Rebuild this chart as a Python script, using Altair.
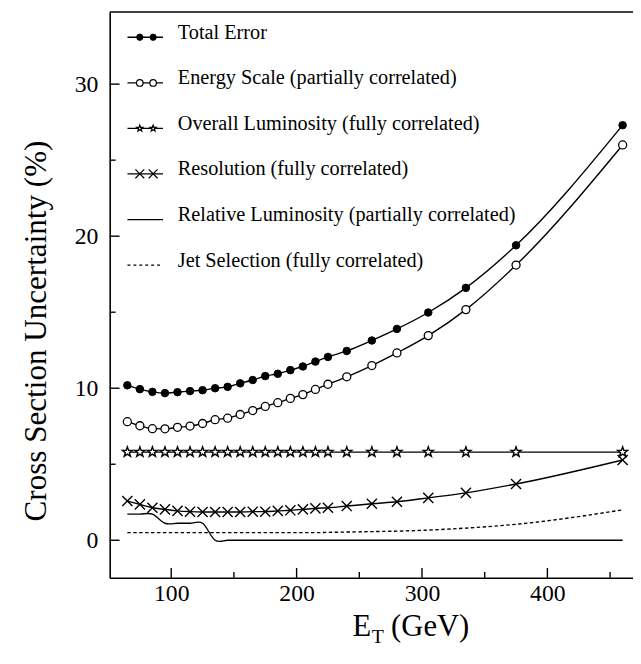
import altair as alt
import pandas as pd

# ---------------- data ----------------
et = [65, 75, 85, 95, 105, 115, 125, 135, 145, 155, 165, 175, 185, 195, 205,
      215, 225, 240, 260, 280, 305, 335, 375, 460]
total_error = [10.19, 9.94, 9.76, 9.68, 9.74, 9.81, 9.87, 10.0, 10.09, 10.32,
               10.54, 10.8, 10.95, 11.19, 11.43, 11.75, 12.06, 12.45, 13.14,
               13.9, 14.98, 16.6, 19.4, 27.3]
energy_scale = [7.8, 7.53, 7.34, 7.33, 7.43, 7.51, 7.68, 7.93, 8.03, 8.27,
                8.53, 8.8, 9.05, 9.33, 9.58, 9.92, 10.26, 10.75, 11.49, 12.32,
                13.46, 15.17, 18.1, 26.0]
overall_lumi = [5.8, 5.8, 5.8, 5.8, 5.8, 5.8, 5.8, 5.8, 5.8, 5.8, 5.8, 5.8,
                5.8, 5.8, 5.8, 5.8, 5.8, 5.8, 5.8, 5.8, 5.8, 5.8, 5.8, 5.8]
resolution = [2.58, 2.36, 2.14, 2.03, 1.93, 1.88, 1.86, 1.86, 1.86, 1.86,
              1.88, 1.88, 1.93, 1.97, 2.03, 2.1, 2.14, 2.25, 2.4, 2.53, 2.79,
              3.12, 3.7, 5.28]
relative_lumi = [1.72, 1.72, 1.72, 1.12, 1.12, 1.12, 1.12, 0.0, 0.0, 0.0, 0.0,
                 0.0, 0.0, 0.0, 0.0, 0.0, 0.0, 0.0, 0.0, 0.0, 0.0, 0.0, 0.0, 0.0]
jet_selection = [0.5, 0.5, 0.5, 0.5, 0.5, 0.5, 0.5, 0.5, 0.5, 0.5, 0.5, 0.5,
                 0.5, 0.5, 0.5, 0.5, 0.52, 0.54, 0.57, 0.6, 0.67, 0.8, 1.05, 2.0]

legend_labels = ["Total Error",
                 "Energy Scale (partially correlated)",
                 "Overall Luminosity (fully correlated)",
                 "Resolution (fully correlated)",
                 "Relative Luminosity (partially correlated)",
                 "Jet Selection (fully correlated)"]

x_major = [100, 200, 300, 400]
x_minor = [150, 250, 350, 450]
y_major = [0, 10, 20, 30]
y_minor = [5, 15, 25]

# ---------------- styling ----------------
FONT = "Liberation Serif"
W, H = 530, 573
STAR = ("M0,-1L0.235,-0.324L0.951,-0.309L0.380,0.124L0.588,0.809L0,0.4"
        "L-0.588,0.809L-0.380,0.124L-0.951,-0.309L-0.235,-0.324Z")
XMARK = "M-1,-1L1,1M-1,1L1,-1"

xs = alt.Scale(domain=[50.94, 468.27], nice=False, zero=False)
ys = alt.Scale(domain=[-2.47, 34.74], nice=False, zero=False)
xaxis = alt.Axis(values=x_major, title=None, grid=False, ticks=False, tickSize=0,
                 labelFont=FONT, labelFontSize=24, labelColor="black",
                 labelPadding=4, labelFlush=False, domainColor="black",
                 domainWidth=1.6)
yaxis = alt.Axis(values=y_major, title=None, grid=False, ticks=False, tickSize=0,
                 labelFont=FONT, labelFontSize=24, labelColor="black",
                 labelPadding=12, labelFlush=False, domainColor="black",
                 domainWidth=1.6)

df = pd.DataFrame({"et": et, "total": total_error, "energy": energy_scale,
                   "overall": overall_lumi, "resol": resolution,
                   "rel": relative_lumi, "jet": jet_selection})
base = alt.Chart(df)


def X():
    return alt.X("et:Q", scale=xs, axis=xaxis)


def Y(f):
    return alt.Y(f + ":Q", scale=ys, axis=yaxis)


layers = []
# lines
for f in ["total", "energy", "overall", "resol"]:
    layers.append(base.mark_line(color="black", strokeWidth=1.4,
                                 interpolate="monotone").encode(x=X(), y=Y(f)))
layers.append(base.mark_line(color="black", strokeWidth=1.4,
                             interpolate="cardinal").encode(x=X(), y=Y("rel")))
layers.append(base.mark_line(color="black", strokeWidth=1.4, strokeDash=[3.5, 2.5],
                             interpolate="monotone").encode(x=X(), y=Y("jet")))
# markers
layers.append(base.mark_point(shape="circle", filled=True, fill="black",
                              stroke="black", strokeWidth=1, size=58,
                              opacity=1).encode(x=X(), y=Y("total")))
layers.append(base.mark_point(shape="circle", filled=True, fill="white",
                              stroke="black", strokeWidth=1.3, size=66,
                              opacity=1).encode(x=X(), y=Y("energy")))
layers.append(base.mark_point(shape=STAR, filled=True, fill="white",
                              stroke="black", strokeWidth=1.4, size=115,
                              opacity=1).encode(x=X(), y=Y("overall")))
layers.append(base.mark_point(shape=XMARK, filled=False, stroke="black",
                              strokeWidth=1.4, size=105,
                              opacity=1).encode(x=X(), y=Y("resol")))

# inward ticks
for vals, ln in [(y_major, 10), (y_minor, 6)]:
    layers.append(alt.Chart(pd.DataFrame({"v": vals})).mark_rule(
        color="black", strokeWidth=1.4).encode(
        y=alt.Y("v:Q", scale=ys, axis=yaxis), x=alt.value(0), x2=alt.value(ln)))
for vals, ln in [(x_major, 10), (x_minor, 6)]:
    layers.append(alt.Chart(pd.DataFrame({"v": vals})).mark_rule(
        color="black", strokeWidth=1.4).encode(
        x=alt.X("v:Q", scale=xs, axis=xaxis), y=alt.value(H), y2=alt.value(H - ln)))

one = alt.Chart(pd.DataFrame({"a": [0]}))
# top frame line
layers.append(one.mark_rule(color="black", strokeWidth=1.6).encode(
    x=alt.value(0), x2=alt.value(W), y=alt.value(0)))

# legend
baselines = [27, 73.3, 119.3, 165.3, 211.7, 257.7]
sym_x = [30.5, 44]
for i, lab in enumerate(legend_labels):
    yb = baselines[i]
    ysym = yb - 1.5
    rule_kw = dict(color="black", strokeWidth=1.3)
    x2 = 54
    if i == 5:
        rule_kw["strokeDash"] = [3, 3]
        x2 = 51
    layers.append(one.mark_rule(**rule_kw).encode(
        x=alt.value(18), x2=alt.value(x2), y=alt.value(ysym)))
    for sx in sym_x:
        if i == 0:
            m = one.mark_point(shape="circle", filled=True, fill="black", stroke="black",
                               strokeWidth=1, size=40, opacity=1)
        elif i == 1:
            m = one.mark_point(shape="circle", filled=True, fill="white", stroke="black",
                               strokeWidth=1.2, size=44, opacity=1)
        elif i == 2:
            m = one.mark_point(shape=STAR, filled=True, fill="white", stroke="black",
                               strokeWidth=1.2, size=44, opacity=1)
        elif i == 3:
            m = one.mark_point(shape=XMARK, filled=False, stroke="black",
                               strokeWidth=1.2, size=80, opacity=1)
        else:
            continue
        layers.append(m.encode(x=alt.value(sx), y=alt.value(ysym)))
    layers.append(one.mark_text(text=lab, font=FONT, fontSize=20.5, color="black",
                                align="left", baseline="alphabetic").encode(
        x=alt.value(69), y=alt.value(yb)))

# axis titles
layers.append(one.mark_text(text="Cross Section Uncertainty (%)", font=FONT,
                            fontSize=31.5, color="black", angle=270, align="center",
                            baseline="alphabetic").encode(
    x=alt.value(-65), y=alt.value(323)))
layers.append(one.mark_text(text="E", font=FONT, fontSize=31, color="black",
                            align="left", baseline="alphabetic").encode(
    x=alt.value(246), y=alt.value(632)))
layers.append(one.mark_text(text="T", font=FONT, fontSize=20, color="black",
                            align="left", baseline="alphabetic").encode(
    x=alt.value(265.5), y=alt.value(639)))
layers.append(one.mark_text(text="(GeV)", font=FONT, fontSize=31, color="black",
                            align="left", baseline="alphabetic").encode(
    x=alt.value(285), y=alt.value(632)))

chart = alt.layer(*layers).properties(
    width=W, height=H,
    padding={"left": 103, "top": 0, "right": 0, "bottom": 70},
    autosize=alt.AutoSizeParams(type="none"),
    background="white",
).configure_view(stroke=None)

chart.save("out.html", embed_options={"renderer": "svg", "actions": False})
